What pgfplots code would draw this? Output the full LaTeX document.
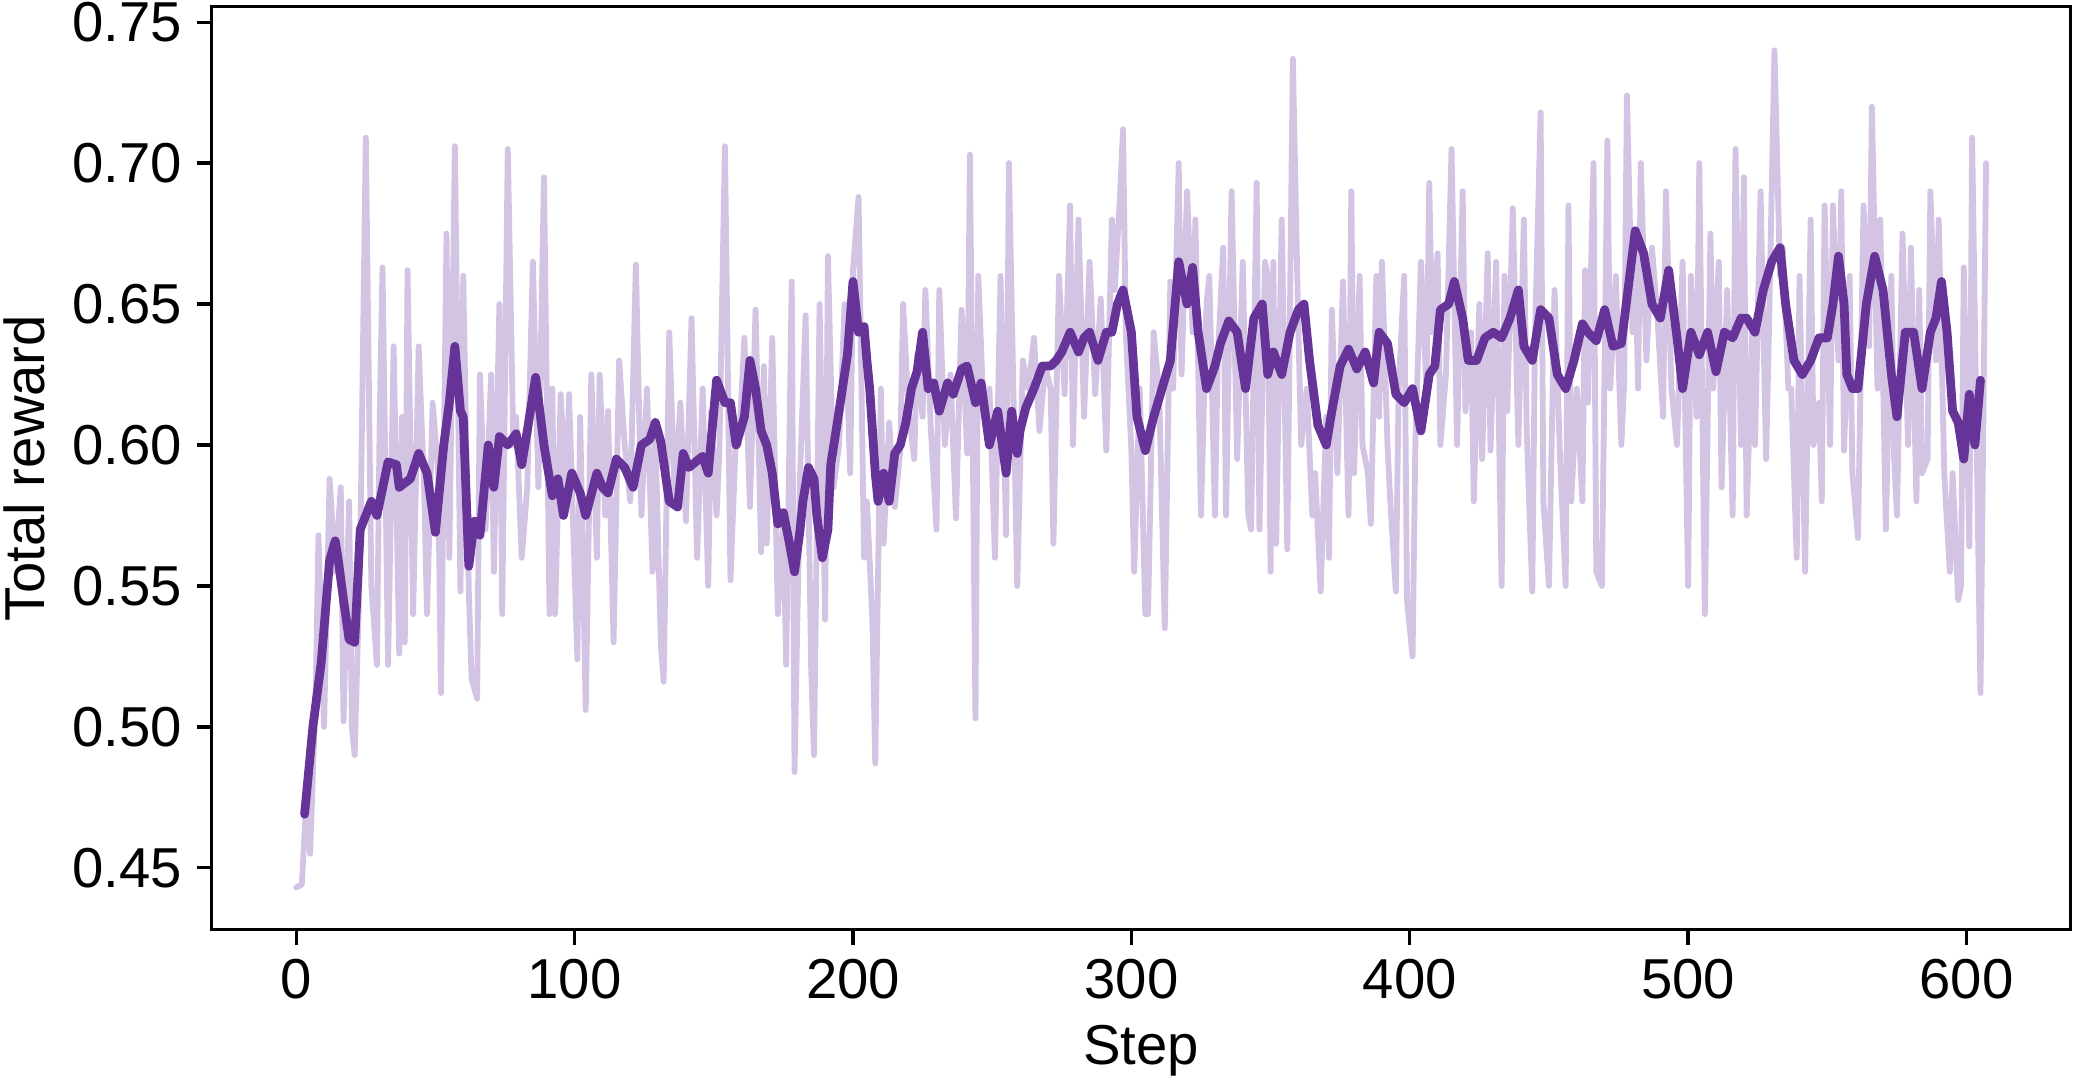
\documentclass[border=0pt]{standalone}
\usepackage{fontspec}
\setmainfont{Liberation Sans}
\usepackage{pgfplots}
\pgfplotsset{compat=1.18}
\definecolor{darkp}{RGB}{102,51,153}
\definecolor{lightp}{RGB}{211,196,227}
\begin{document}
\begin{tikzpicture}
\begin{axis}[
  scale only axis,
  width=446pt, height=221.5pt,
  xmin=-30.35, xmax=637.35,
  ymin=0.428, ymax=0.7555,
  xtick={0,100,...,600},
  ytick={0.45,0.50,...,0.75},
  yticklabel style={/pgf/number format/.cd,fixed,fixed zerofill,precision=2},
  /pgf/number format/assume math mode=true,
  font=\fontsize{13.5}{16}\selectfont,
  tick label style={font=\fontsize{13.5}{16}\selectfont},
  label style={font=\fontsize{13.5}{16}\selectfont},
  tick align=outside,
  xtick pos=bottom, ytick pos=left,
  major tick length=3.6pt,
  tick style={black, line width=0.8pt},
  axis line style={black, line width=0.8pt},
  xlabel={Step},
  ylabel={Total reward},
  x label style={at={(axis description cs:0.5,-0.131)}, anchor=center},
  y label style={at={(axis description cs:-0.101,0.5)}, anchor=center, rotate=0},
  clip=true,
]
\addplot[lightp, line width=1.4pt, line join=round, line cap=round] coordinates {
(0,0.443) (2,0.444) (4,0.480) (5,0.455) (7,0.512) (8,0.568) (10,0.500) (12,0.588) (14,0.555) (16,0.585)
(17,0.502) (19,0.580) (20,0.500) (21,0.490) (23,0.562) (25,0.709) (27,0.550) (29,0.522) (30,0.610) (31,0.663)
(33,0.522) (35,0.635) (37,0.526) (38,0.610) (39,0.530) (40,0.662) (42,0.540) (44,0.635) (46,0.583) (47,0.540)
(49,0.615) (51,0.590) (52,0.512) (54,0.675) (55,0.560) (57,0.706) (59,0.548) (60,0.660) (62,0.548) (63,0.517)
(65,0.510) (66,0.625) (68,0.570) (70,0.625) (71,0.555) (73,0.650) (74,0.540) (76,0.705) (78,0.600) (79,0.610)
(81,0.560) (83,0.585) (85,0.665) (87,0.585) (89,0.695) (91,0.540) (92,0.620) (93,0.540) (95,0.618) (97,0.580)
(98,0.618) (101,0.524) (102,0.610) (104,0.506) (106,0.625) (108,0.560) (109,0.625) (111,0.575) (112,0.612) (114,0.530)
(116,0.630) (118,0.600) (120,0.580) (122,0.664) (124,0.575) (126,0.620) (128,0.555) (129,0.603) (131,0.529) (132,0.516)
(134,0.640) (136,0.580) (138,0.615) (140,0.573) (142,0.645) (144,0.560) (146,0.620) (148,0.550) (149,0.612) (151,0.575)
(152,0.598) (154,0.706) (156,0.552) (158,0.605) (159,0.600) (161,0.638) (163,0.578) (165,0.648) (167,0.562) (168,0.628)
(169,0.565) (171,0.638) (173,0.540) (175,0.573) (176,0.522) (178,0.658) (179,0.484) (181,0.590) (183,0.646) (185,0.520)
(186,0.490) (188,0.650) (190,0.538) (191,0.667) (193,0.585) (195,0.600) (197,0.650) (199,0.590) (200,0.662) (202,0.688)
(204,0.560) (205,0.580) (207,0.537) (208,0.487) (210,0.620) (211,0.565) (213,0.608) (215,0.578) (217,0.598) (218,0.650)
(220,0.612) (222,0.595) (223,0.632) (225,0.610) (226,0.655) (228,0.605) (230,0.570) (231,0.655) (233,0.600) (235,0.625)
(237,0.574) (239,0.648) (241,0.597) (242,0.703) (244,0.503) (245,0.660) (247,0.610) (249,0.620) (251,0.560) (253,0.660)
(255,0.568) (256,0.700) (258,0.600) (259,0.550) (261,0.630) (263,0.620) (265,0.638) (267,0.605) (269,0.628) (271,0.620)
(272,0.565) (274,0.660) (276,0.618) (278,0.685) (279,0.600) (281,0.680) (283,0.610) (285,0.665) (287,0.618) (289,0.652)
(291,0.598) (293,0.680) (294,0.655) (296,0.690) (297,0.712) (298,0.640) (300,0.598) (301,0.555) (303,0.620) (305,0.540)
(306,0.540) (308,0.640) (310,0.618) (312,0.535) (314,0.658) (315,0.620) (317,0.700) (318,0.625) (320,0.690) (322,0.640)
(323,0.680) (325,0.575) (327,0.650) (328,0.660) (330,0.575) (331,0.630) (333,0.670) (334,0.575) (336,0.690) (338,0.595)
(340,0.665) (342,0.575) (343,0.570) (345,0.693) (346,0.570) (348,0.665) (349,0.660) (350,0.555) (351,0.665) (352,0.565)
(354,0.680) (356,0.563) (358,0.737) (360,0.640) (361,0.600) (363,0.620) (365,0.575) (366,0.590) (368,0.548) (370,0.610)
(371,0.560) (372,0.648) (374,0.590) (376,0.658) (378,0.575) (379,0.690) (380,0.590) (382,0.660) (383,0.600) (385,0.590)
(386,0.572) (388,0.660) (389,0.610) (390,0.665) (392,0.600) (393,0.580) (395,0.548) (396,0.620) (398,0.660) (399,0.545)
(401,0.525) (402,0.600) (404,0.665) (406,0.620) (407,0.693) (408,0.640) (410,0.668) (411,0.600) (413,0.625) (415,0.705)
(417,0.600) (419,0.690) (420,0.612) (422,0.640) (423,0.580) (425,0.650) (426,0.595) (428,0.668) (429,0.598) (431,0.665)
(433,0.550) (434,0.660) (435,0.612) (437,0.684) (439,0.600) (441,0.680) (442,0.605) (444,0.548) (445,0.640) (447,0.718)
(448,0.580) (450,0.550) (452,0.655) (454,0.595) (456,0.550) (457,0.685) (458,0.580) (460,0.620) (462,0.580) (463,0.662)
(464,0.615) (466,0.700) (467,0.555) (469,0.550) (471,0.708) (472,0.620) (474,0.660) (476,0.600) (477,0.622) (478,0.724)
(480,0.640) (481,0.670) (482,0.620) (483,0.700) (485,0.630) (487,0.670) (489,0.645) (491,0.610) (492,0.690) (494,0.620)
(496,0.600) (498,0.665) (500,0.550) (501,0.660) (503,0.610) (504,0.700) (506,0.540) (508,0.675) (509,0.620) (511,0.665)
(512,0.585) (514,0.655) (516,0.575) (517,0.705) (519,0.600) (520,0.695) (521,0.575) (523,0.640) (524,0.600) (526,0.690)
(528,0.595) (529,0.640) (531,0.740) (533,0.660) (534,0.670) (536,0.620) (537,0.620) (539,0.560) (540,0.660) (542,0.555)
(544,0.680) (545,0.600) (547,0.615) (548,0.580) (549,0.685) (551,0.600) (552,0.685) (554,0.630) (555,0.690) (556,0.598)
(558,0.660) (559,0.590) (561,0.567) (563,0.685) (565,0.635) (566,0.720) (568,0.620) (569,0.680) (571,0.570) (573,0.660)
(574,0.595) (575,0.575) (577,0.675) (579,0.600) (580,0.670) (582,0.580) (583,0.655) (584,0.590) (586,0.595) (587,0.690)
(589,0.630) (590,0.680) (592,0.590) (593,0.572) (594,0.555) (595,0.590) (597,0.545) (598,0.550) (599,0.663) (601,0.564)
(602,0.709) (605,0.512) (607,0.700)
};
\addplot[darkp, line width=2.1pt, line join=round, line cap=round] coordinates {
(3,0.469) (6,0.500) (9,0.523) (12,0.559) (14,0.566) (15,0.560) (17,0.545) (19,0.531) (21,0.530) (23,0.570)
(27,0.580) (29,0.575) (33,0.594) (36,0.593) (37,0.585) (41,0.588) (44,0.597) (47,0.590) (50,0.569) (53,0.600)
(55,0.615) (57,0.635) (59,0.612) (60,0.610) (62,0.557) (64,0.573) (66,0.568) (69,0.600) (71,0.585) (73,0.603)
(76,0.600) (79,0.604) (81,0.593) (83,0.605) (86,0.624) (89,0.600) (92,0.582) (94,0.588) (96,0.575) (99,0.590)
(102,0.583) (104,0.575) (108,0.590) (110,0.585) (112,0.583) (115,0.595) (118,0.592) (121,0.585) (124,0.600) (127,0.602)
(129,0.608) (131,0.601) (134,0.580) (137,0.578) (139,0.597) (141,0.592) (146,0.596) (148,0.590) (151,0.623) (154,0.615)
(156,0.615) (158,0.600) (161,0.610) (163,0.630) (165,0.620) (167,0.605) (169,0.600) (171,0.590) (173,0.572) (175,0.576)
(177,0.566) (179,0.555) (181,0.570) (182,0.580) (184,0.592) (186,0.588) (187,0.575) (189,0.560) (191,0.570) (192,0.593)
(195,0.612) (198,0.632) (200,0.658) (202,0.640) (204,0.642) (205,0.630) (206,0.620) (208,0.590) (209,0.580) (211,0.590)
(213,0.580) (215,0.597) (217,0.600) (219,0.608) (221,0.620) (223,0.626) (225,0.640) (227,0.620) (229,0.622) (231,0.612)
(234,0.622) (236,0.618) (239,0.627) (241,0.628) (244,0.615) (246,0.622) (249,0.600) (252,0.612) (255,0.590) (257,0.612)
(259,0.597) (260,0.605) (262,0.613) (265,0.620) (268,0.628) (271,0.628) (273,0.630) (275,0.633) (278,0.640) (281,0.633)
(283,0.638) (285,0.640) (288,0.630) (291,0.640) (293,0.640) (295,0.650) (297,0.655) (300,0.640) (302,0.610) (305,0.598)
(308,0.610) (311,0.620) (314,0.630) (317,0.665) (320,0.650) (322,0.663) (324,0.640) (327,0.620) (330,0.628) (332,0.636)
(335,0.644) (338,0.640) (341,0.620) (344,0.645) (347,0.650) (349,0.625) (351,0.633) (354,0.625) (357,0.640) (360,0.648)
(362,0.650) (364,0.630) (367,0.607) (370,0.600) (372,0.612) (375,0.628) (378,0.634) (381,0.627) (384,0.633) (387,0.622)
(389,0.640) (392,0.636) (395,0.618) (398,0.615) (401,0.620) (404,0.605) (407,0.625) (409,0.628) (411,0.648) (414,0.650)
(416,0.658) (419,0.645) (421,0.630) (424,0.630) (427,0.638) (430,0.640) (433,0.638) (436,0.645) (439,0.655) (441,0.635)
(444,0.630) (447,0.648) (450,0.645) (453,0.625) (456,0.620) (459,0.630) (462,0.643) (464,0.640) (467,0.637) (470,0.648)
(473,0.635) (476,0.636) (479,0.660) (481,0.676) (484,0.668) (487,0.650) (490,0.645) (493,0.662) (496,0.638) (498,0.620)
(501,0.640) (504,0.632) (507,0.640) (510,0.626) (513,0.640) (516,0.638) (519,0.645) (521,0.645) (524,0.640) (527,0.655)
(530,0.665) (533,0.670) (535,0.650) (538,0.630) (541,0.625) (544,0.630) (547,0.638) (550,0.638) (552,0.650) (554,0.667)
(556,0.650) (557,0.625) (559,0.620) (561,0.620) (564,0.650) (567,0.667) (570,0.655) (573,0.625) (575,0.610) (578,0.640)
(581,0.640) (584,0.620) (587,0.640) (589,0.645) (591,0.658) (593,0.640) (595,0.612) (597,0.608) (599,0.595) (601,0.618)
(603,0.600) (605,0.623)
};
\end{axis}
\pgfresetboundingbox
\path ([shift={(-50.8pt,-36.9pt)}]current axis.south west) rectangle ([shift={(0.6pt,1.6pt)}]current axis.north east);
\end{tikzpicture}
\end{document}
